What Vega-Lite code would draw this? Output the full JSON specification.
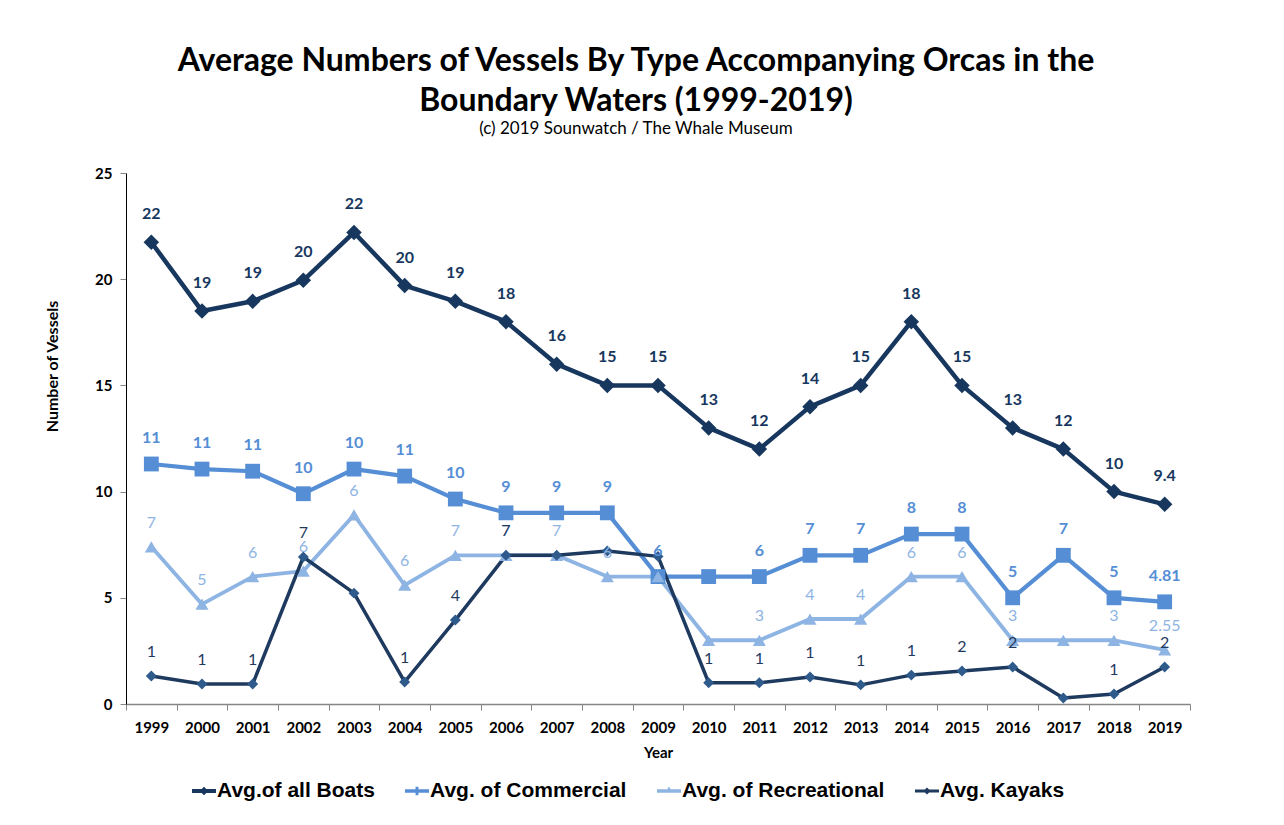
{
  "$schema": "https://vega.github.io/schema/vega-lite/v6.json",
  "autosize": "none",
  "width": 1064,
  "height": 531,
  "padding": {"left": 126, "top": 173, "right": 94, "bottom": 121},
  "background": "white",
  "title": {
    "text": ["Average Numbers of Vessels By Type Accompanying Orcas in the", "Boundary Waters (1999-2019)"],
    "subtitle": "(c) 2019 Sounwatch / The Whale Museum",
    "anchor": "middle",
    "dx": -22,
    "font": "Lato",
    "fontSize": 32,
    "fontWeight": "bold",
    "color": "black",
    "lineHeight": 40,
    "subtitleFont": "Lato",
    "subtitleFontSize": 17,
    "subtitleColor": "black",
    "subtitlePadding": 3,
    "offset": 28
  },
  "data": {
    "values": [
      {"year": "1999", "series": "Avg.of all Boats", "value": 21.74, "label": "22"},
      {"year": "2000", "series": "Avg.of all Boats", "value": 18.5, "label": "19"},
      {"year": "2001", "series": "Avg.of all Boats", "value": 18.96, "label": "19"},
      {"year": "2002", "series": "Avg.of all Boats", "value": 19.95, "label": "20"},
      {"year": "2003", "series": "Avg.of all Boats", "value": 22.2, "label": "22"},
      {"year": "2004", "series": "Avg.of all Boats", "value": 19.7, "label": "20"},
      {"year": "2005", "series": "Avg.of all Boats", "value": 18.96, "label": "19"},
      {"year": "2006", "series": "Avg.of all Boats", "value": 18.0, "label": "18"},
      {"year": "2007", "series": "Avg.of all Boats", "value": 16.0, "label": "16"},
      {"year": "2008", "series": "Avg.of all Boats", "value": 15.0, "label": "15"},
      {"year": "2009", "series": "Avg.of all Boats", "value": 15.0, "label": "15"},
      {"year": "2010", "series": "Avg.of all Boats", "value": 13.0, "label": "13"},
      {"year": "2011", "series": "Avg.of all Boats", "value": 12.0, "label": "12"},
      {"year": "2012", "series": "Avg.of all Boats", "value": 14.0, "label": "14"},
      {"year": "2013", "series": "Avg.of all Boats", "value": 15.0, "label": "15"},
      {"year": "2014", "series": "Avg.of all Boats", "value": 18.0, "label": "18"},
      {"year": "2015", "series": "Avg.of all Boats", "value": 15.0, "label": "15"},
      {"year": "2016", "series": "Avg.of all Boats", "value": 13.0, "label": "13"},
      {"year": "2017", "series": "Avg.of all Boats", "value": 12.0, "label": "12"},
      {"year": "2018", "series": "Avg.of all Boats", "value": 10.0, "label": "10"},
      {"year": "2019", "series": "Avg.of all Boats", "value": 9.4, "label": "9.4"},

      {"year": "1999", "series": "Avg. of Commercial", "value": 11.3, "label": "11"},
      {"year": "2000", "series": "Avg. of Commercial", "value": 11.06, "label": "11"},
      {"year": "2001", "series": "Avg. of Commercial", "value": 10.96, "label": "11"},
      {"year": "2002", "series": "Avg. of Commercial", "value": 9.9, "label": "10"},
      {"year": "2003", "series": "Avg. of Commercial", "value": 11.06, "label": "10"},
      {"year": "2004", "series": "Avg. of Commercial", "value": 10.73, "label": "11"},
      {"year": "2005", "series": "Avg. of Commercial", "value": 9.65, "label": "10"},
      {"year": "2006", "series": "Avg. of Commercial", "value": 9.0, "label": "9"},
      {"year": "2007", "series": "Avg. of Commercial", "value": 9.0, "label": "9"},
      {"year": "2008", "series": "Avg. of Commercial", "value": 9.0, "label": "9"},
      {"year": "2009", "series": "Avg. of Commercial", "value": 6.0, "label": "6"},
      {"year": "2010", "series": "Avg. of Commercial", "value": 6.0, "label": ""},
      {"year": "2011", "series": "Avg. of Commercial", "value": 6.0, "label": "6"},
      {"year": "2012", "series": "Avg. of Commercial", "value": 7.0, "label": "7"},
      {"year": "2013", "series": "Avg. of Commercial", "value": 7.0, "label": "7"},
      {"year": "2014", "series": "Avg. of Commercial", "value": 8.0, "label": "8"},
      {"year": "2015", "series": "Avg. of Commercial", "value": 8.0, "label": "8"},
      {"year": "2016", "series": "Avg. of Commercial", "value": 5.0, "label": "5"},
      {"year": "2017", "series": "Avg. of Commercial", "value": 7.0, "label": "7"},
      {"year": "2018", "series": "Avg. of Commercial", "value": 5.0, "label": "5"},
      {"year": "2019", "series": "Avg. of Commercial", "value": 4.81, "label": "4.81"},

      {"year": "1999", "series": "Avg. of Recreational", "value": 7.4, "label": "7"},
      {"year": "2000", "series": "Avg. of Recreational", "value": 4.7, "label": "5"},
      {"year": "2001", "series": "Avg. of Recreational", "value": 6.0, "label": "6"},
      {"year": "2002", "series": "Avg. of Recreational", "value": 6.26, "label": "6"},
      {"year": "2003", "series": "Avg. of Recreational", "value": 8.9, "label": "6"},
      {"year": "2004", "series": "Avg. of Recreational", "value": 5.6, "label": "6"},
      {"year": "2005", "series": "Avg. of Recreational", "value": 7.0, "label": "7"},
      {"year": "2006", "series": "Avg. of Recreational", "value": 7.0, "label": "7"},
      {"year": "2007", "series": "Avg. of Recreational", "value": 7.0, "label": "7"},
      {"year": "2008", "series": "Avg. of Recreational", "value": 6.0, "label": "6"},
      {"year": "2009", "series": "Avg. of Recreational", "value": 6.0, "label": ""},
      {"year": "2010", "series": "Avg. of Recreational", "value": 3.0, "label": ""},
      {"year": "2011", "series": "Avg. of Recreational", "value": 3.0, "label": "3"},
      {"year": "2012", "series": "Avg. of Recreational", "value": 4.0, "label": "4"},
      {"year": "2013", "series": "Avg. of Recreational", "value": 4.0, "label": "4"},
      {"year": "2014", "series": "Avg. of Recreational", "value": 6.0, "label": "6"},
      {"year": "2015", "series": "Avg. of Recreational", "value": 6.0, "label": "6"},
      {"year": "2016", "series": "Avg. of Recreational", "value": 3.0, "label": "3"},
      {"year": "2017", "series": "Avg. of Recreational", "value": 3.0, "label": ""},
      {"year": "2018", "series": "Avg. of Recreational", "value": 3.0, "label": "3"},
      {"year": "2019", "series": "Avg. of Recreational", "value": 2.55, "label": "2.55"},

      {"year": "1999", "series": "Avg. Kayaks", "value": 1.32, "label": "1"},
      {"year": "2000", "series": "Avg. Kayaks", "value": 0.94, "label": "1"},
      {"year": "2001", "series": "Avg. Kayaks", "value": 0.94, "label": "1"},
      {"year": "2002", "series": "Avg. Kayaks", "value": 6.92, "label": "7"},
      {"year": "2003", "series": "Avg. Kayaks", "value": 5.22, "label": ""},
      {"year": "2004", "series": "Avg. Kayaks", "value": 1.04, "label": "1"},
      {"year": "2005", "series": "Avg. Kayaks", "value": 3.95, "label": "4"},
      {"year": "2006", "series": "Avg. Kayaks", "value": 7.0, "label": "7"},
      {"year": "2007", "series": "Avg. Kayaks", "value": 7.0, "label": ""},
      {"year": "2008", "series": "Avg. Kayaks", "value": 7.2, "label": ""},
      {"year": "2009", "series": "Avg. Kayaks", "value": 6.95, "label": ""},
      {"year": "2010", "series": "Avg. Kayaks", "value": 1.0, "label": "1"},
      {"year": "2011", "series": "Avg. Kayaks", "value": 1.0, "label": "1"},
      {"year": "2012", "series": "Avg. Kayaks", "value": 1.27, "label": "1"},
      {"year": "2013", "series": "Avg. Kayaks", "value": 0.9, "label": "1"},
      {"year": "2014", "series": "Avg. Kayaks", "value": 1.36, "label": "1"},
      {"year": "2015", "series": "Avg. Kayaks", "value": 1.55, "label": "2"},
      {"year": "2016", "series": "Avg. Kayaks", "value": 1.74, "label": "2"},
      {"year": "2017", "series": "Avg. Kayaks", "value": 0.28, "label": ""},
      {"year": "2018", "series": "Avg. Kayaks", "value": 0.47, "label": "1"},
      {"year": "2019", "series": "Avg. Kayaks", "value": 1.74, "label": "2"}
    ]
  },
  "encoding": {
    "x": {
      "field": "year",
      "type": "ordinal",
      "title": "Year",
      "scale": {"paddingInner": 0, "paddingOuter": 0},
      "axis": {
        "labelAngle": 0,
        "labelFont": "Lato",
        "labelFontSize": 15,
        "labelFontWeight": "bold",
        "labelColor": "black",
        "labelPadding": 10,
        "titleFont": "Lato",
        "titleFontSize": 15,
        "titleFontWeight": "bold",
        "titleColor": "black",
        "titlePadding": 10,
        "domainColor": "#868686",
        "domainWidth": 1.5,
        "tickColor": "#868686",
        "tickSize": 6,
        "tickBand": "extent",
        "grid": false
      }
    },
    "y": {
      "field": "value",
      "type": "quantitative",
      "title": "Number of Vessels",
      "scale": {"domain": [0, 25], "nice": false},
      "axis": {
        "values": [0, 5, 10, 15, 20, 25],
        "labelFont": "Lato",
        "labelFontSize": 15,
        "labelFontWeight": "bold",
        "labelColor": "black",
        "labelPadding": 8,
        "titleFont": "Lato",
        "titleFontSize": 16,
        "titleFontWeight": "bold",
        "titleColor": "black",
        "titlePadding": 34,
        "titleY": 193,
        "domainColor": "black",
        "tickColor": "#868686",
        "tickSize": 6,
        "grid": false
      }
    }
  },
  "layer": [
    {
      "mark": {"type": "line", "strokeJoin": "round"},
      "encoding": {
        "color": {
          "field": "series", "type": "nominal",
          "scale": {"domain": ["Avg.of all Boats", "Avg. of Commercial", "Avg. of Recreational", "Avg. Kayaks"], "range": ["#17375E", "#558ED5", "#8EB4E3", "#1F3A5F"]},
          "legend": null
        },
        "strokeWidth": {
          "field": "series", "type": "ordinal",
          "scale": {"domain": ["Avg.of all Boats", "Avg. of Commercial", "Avg. of Recreational", "Avg. Kayaks"], "range": [4.5, 3.5, 3.5, 2.5]},
          "legend": null
        }
      }
    },
    {
      "transform": [{"filter": "datum.series === 'Avg.of all Boats'"}],
      "mark": {"type": "point", "shape": "diamond", "filled": true, "opacity": 1, "size": 240, "color": "#17375E"}
    },
    {
      "transform": [{"filter": "datum.series === 'Avg. of Commercial'"}],
      "mark": {"type": "point", "shape": "square", "filled": true, "opacity": 1, "size": 220, "color": "#558ED5"}
    },
    {
      "transform": [{"filter": "datum.series === 'Avg. of Recreational'"}],
      "mark": {"type": "point", "shape": "triangle-up", "filled": true, "opacity": 1, "size": 170, "color": "#8EB4E3"}
    },
    {
      "transform": [{"filter": "datum.series === 'Avg. Kayaks'"}],
      "mark": {"type": "point", "shape": "diamond", "filled": true, "opacity": 1, "size": 120, "color": "#2F5A8C"}
    },
    {
      "transform": [{"filter": "datum.series === 'Avg.of all Boats'"}],
      "mark": {"type": "text", "dy": -28, "font": "Lato", "fontSize": 16, "fontWeight": "bold", "color": "#17375E"},
      "encoding": {"text": {"field": "label"}}
    },
    {
      "transform": [{"filter": "datum.series === 'Avg. of Commercial'"}],
      "mark": {"type": "text", "dy": -26, "font": "Lato", "fontSize": 16, "fontWeight": "bold", "color": "#558ED5"},
      "encoding": {"text": {"field": "label"}}
    },
    {
      "transform": [{"filter": "datum.series === 'Avg. of Recreational'"}],
      "mark": {"type": "text", "dy": -24, "font": "Lato", "fontSize": 16, "color": "#8EB4E3"},
      "encoding": {"text": {"field": "label"}}
    },
    {
      "transform": [{"filter": "datum.series === 'Avg. Kayaks'"}],
      "mark": {"type": "text", "dy": -24, "font": "Lato", "fontSize": 16, "color": "#1F3A5F"},
      "encoding": {"text": {"field": "label"}}
    },
    {
      "mark": {"type": "point", "filled": true, "opacity": 0, "strokeWidth": 0},
      "encoding": {
        "fill": {
          "field": "series", "type": "nominal",
          "scale": {"domain": ["Avg.of all Boats", "Avg. of Commercial", "Avg. of Recreational", "Avg. Kayaks"], "range": ["#17375E", "#558ED5", "#8EB4E3", "#1F3A5F"]},
          "legend": {
            "title": null,
            "orient": "none",
            "legendX": 66,
            "legendY": 606,
            "direction": "horizontal",
            "columns": 4,
            "columnPadding": 30,
            "symbolSize": 576,
            "symbolStrokeWidth": 0,
            "symbolOpacity": 1,
            "symbolFillColor": "#17375E",
            "labelOffset": 1,
            "labelFont": "Liberation Sans",
            "labelFontSize": 21,
            "labelFontWeight": "bold",
            "labelColor": "black",
            "labelLimit": 400
          }
        },
        "shape": {
          "field": "series", "type": "nominal",
          "scale": {
            "domain": ["Avg.of all Boats", "Avg. of Commercial", "Avg. of Recreational", "Avg. Kayaks"],
            "range": [
              "M-1,-0.17L1,-0.17L1,0.17L-1,0.17Z M0,-0.36L0.36,0L0,0.36L-0.36,0Z",
              "M-1,-0.14L1,-0.14L1,0.14L-1,0.14Z M-0.12,-0.36L0.12,-0.36L0.12,0.36L-0.12,0.36Z",
              "M-1,-0.14L1,-0.14L1,0.14L-1,0.14Z M0,-0.38L0.32,0.14L-0.32,0.14Z",
              "M-1,-0.12L1,-0.12L1,0.12L-1,0.12Z M0,-0.3L0.3,0L0,0.3L-0.3,0Z"
            ]
          },
          "legend": {
            "title": null,
            "orient": "none",
            "legendX": 66,
            "legendY": 606,
            "direction": "horizontal",
            "columns": 4,
            "columnPadding": 30,
            "symbolSize": 576,
            "symbolStrokeWidth": 0,
            "symbolOpacity": 1,
            "symbolFillColor": "#17375E",
            "labelOffset": 1,
            "labelFont": "Liberation Sans",
            "labelFontSize": 21,
            "labelFontWeight": "bold",
            "labelColor": "black",
            "labelLimit": 400,
            "encode": {"symbols": {"update": {"fill": {"scale": "fill", "field": "value"}}}}
          }
        }
      }
    }
  ],
  "resolve": {"scale": {"shape": "independent"}},
  "config": {
    "view": {"stroke": null}
  }
}
